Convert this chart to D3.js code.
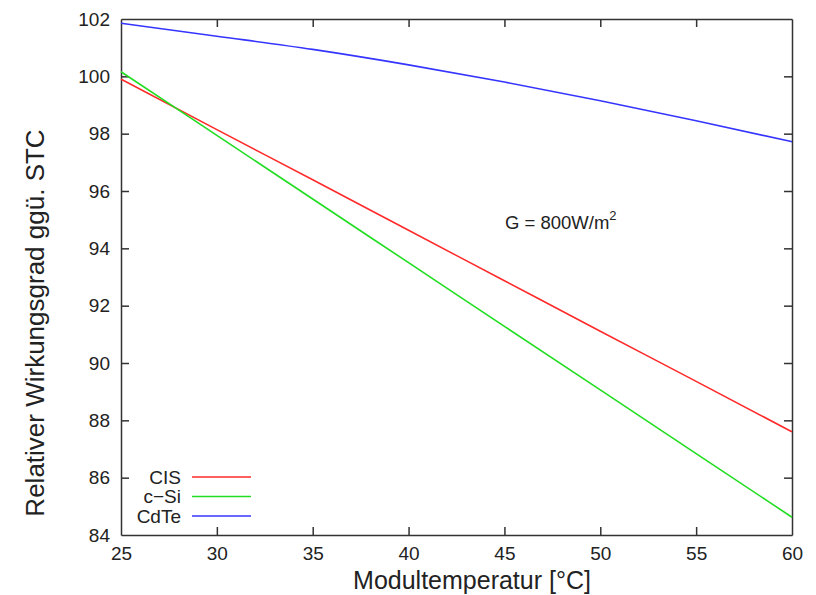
<!DOCTYPE html>
<html>
<head>
<meta charset="utf-8">
<script src="https://cdn.jsdelivr.net/npm/d3@7"></script>
<style>
  body { margin: 0; background: #fff; }
  text { font-family: "Liberation Sans", Arial, sans-serif; fill: #222; }
</style>
</head>
<body>
<svg id="chart" width="816" height="595"></svg>
<script>
// temperatures
const temps = [25, 30, 35, 40, 45, 50, 55, 60];
// relative efficiency per module type (% of STC)
const cis = [99.9, 98.14, 96.39, 94.63, 92.87, 91.11, 89.36, 87.6];
const cSi = [100.16, 97.94, 95.72, 93.5, 91.28, 89.06, 86.84, 84.62];
const cdTe = [101.85, 101.4, 100.94, 100.4, 99.8, 99.15, 98.45, 97.72];

const series = [
  { name: "CIS", values: cis, color: "#ff2a2a" },
  { name: "c\u2212Si", values: cSi, color: "#22dd22" },
  { name: "CdTe", values: cdTe, color: "#3535ff" }
];

const xTicks = [25, 30, 35, 40, 45, 50, 55, 60];
const yTicks = [84, 86, 88, 90, 92, 94, 96, 98, 100, 102];

const svg = d3.select("#chart");
const plotL = 121, plotR = 792, plotT = 19, plotB = 535;

const x = d3.scaleLinear().domain([25, 60]).range([plotL, plotR]);
const y = d3.scaleLinear().domain([84, 102]).range([plotB, plotT]);

// axes: ticks point inwards, mirrored on top/right like gnuplot
const gx = svg.append("g").attr("transform", `translate(0,${plotB})`)
  .call(d3.axisBottom(x).tickValues(xTicks).tickSizeInner(-8).tickSizeOuter(0).tickPadding(12));
const gy = svg.append("g").attr("transform", `translate(${plotL},0)`)
  .call(d3.axisLeft(y).tickValues(yTicks).tickSizeInner(-8).tickSizeOuter(0).tickPadding(11));
const gx2 = svg.append("g").attr("transform", `translate(0,${plotT})`)
  .call(d3.axisTop(x).tickValues(xTicks).tickSizeInner(-8).tickSizeOuter(0).tickFormat(""));
const gy2 = svg.append("g").attr("transform", `translate(${plotR},0)`)
  .call(d3.axisRight(y).tickValues(yTicks).tickSizeInner(-8).tickSizeOuter(0).tickFormat(""));

[gx, gy, gx2, gy2].forEach(g => {
  g.selectAll("path, line").attr("stroke", "#333").attr("stroke-width", 1.5);
  g.selectAll("text").attr("font-size", 19).attr("fill", "#222")
    .attr("font-family", "Liberation Sans, Arial, sans-serif");
});
// drop end ticks that sit on the frame
gx.selectAll(".tick").filter(d => d === 25 || d === 60).select("line").remove();
gx2.selectAll(".tick").filter(d => d === 25 || d === 60).select("line").remove();
gy.selectAll(".tick").filter(d => d === 84 || d === 102).select("line").remove();
gy2.selectAll(".tick").filter(d => d === 84 || d === 102).select("line").remove();

const line = d3.line()
  .x((d, i) => x(temps[i]))
  .y(d => y(d))
  .curve(d3.curveMonotoneX);

svg.append("g").selectAll("path")
  .data(series)
  .join("path")
  .attr("d", d => line(d.values))
  .attr("fill", "none")
  .attr("stroke", d => d.color)
  .attr("stroke-width", 1.6);

// legend
const legend = svg.append("g");
series.forEach((s, i) => {
  const ly = 477 + i * 19.5;
  legend.append("text").attr("x", 181).attr("y", ly).attr("dy", "0.35em")
    .attr("text-anchor", "end").attr("font-size", 19).text(s.name);
  legend.append("line").attr("x1", 192).attr("x2", 251).attr("y1", ly).attr("y2", ly)
    .attr("stroke", s.color).attr("stroke-width", 1.6);
});

// annotation
const ann = svg.append("text").attr("x", 505).attr("y", 229).attr("font-size", 18.5);
ann.append("tspan").text("G = 800W/m");
ann.append("tspan").attr("dy", -9).attr("font-size", 13).text("2");

// axis titles
svg.append("text").attr("x", 472).attr("y", 589)
  .attr("text-anchor", "middle").attr("font-size", 25).attr("fill", "#111")
  .text("Modultemperatur [°C]");
svg.append("text").attr("transform", "translate(44,323) rotate(-90)")
  .attr("text-anchor", "middle").attr("font-size", 26).attr("fill", "#111")
  .text("Relativer Wirkungsgrad ggü. STC");
</script>
</body>
</html>
